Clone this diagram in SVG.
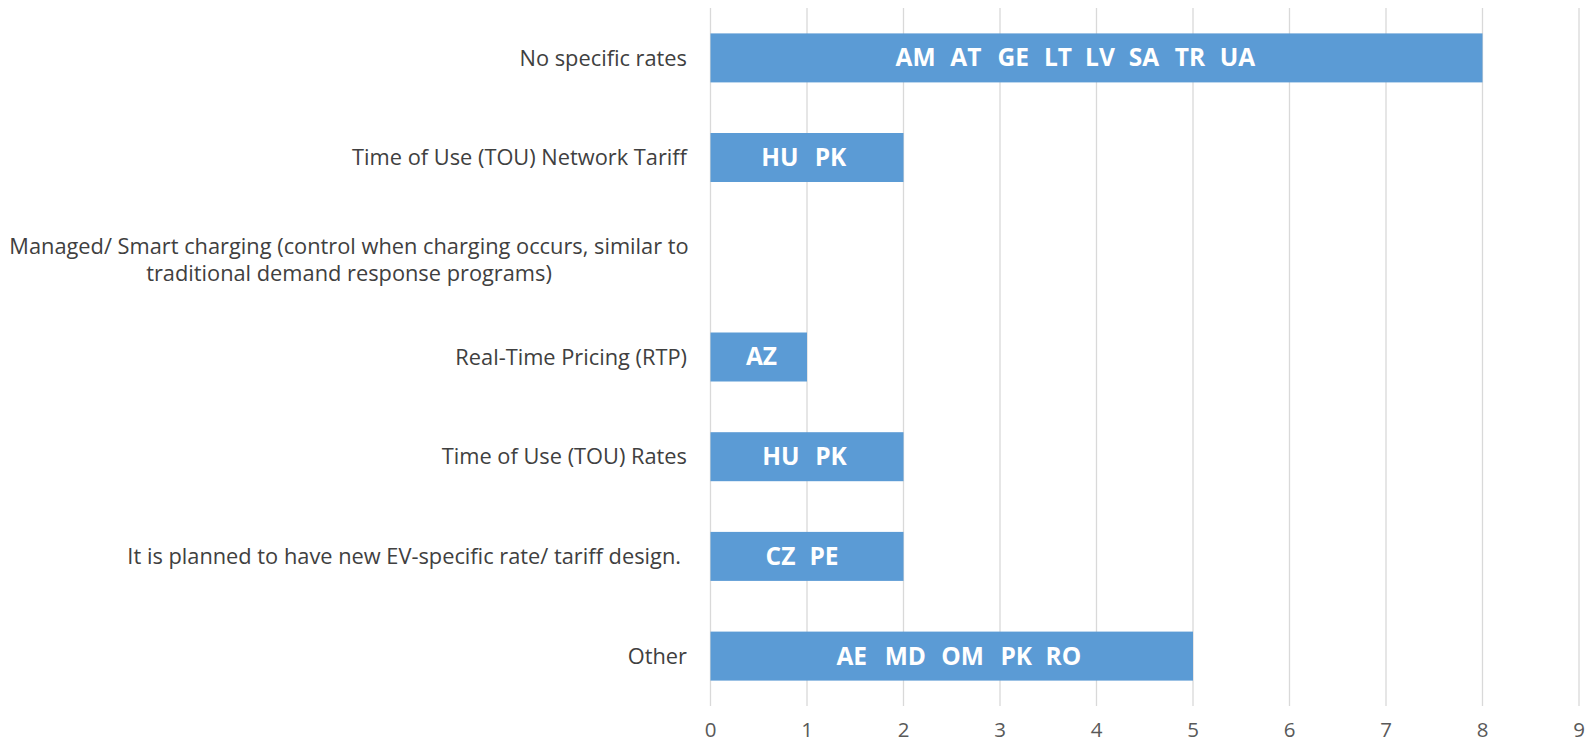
<svg xmlns="http://www.w3.org/2000/svg" width="1585" height="743" viewBox="0 0 1585 743">
<style>
.bg{fill:#ffffff}
.grid line{stroke:#d9d9d9;stroke-width:1.3}
.bar{fill:#5b9bd5}
.cat{font-family:"Open Sans","Liberation Sans",sans-serif;font-size:21.8px;fill:#404040;text-anchor:end}
.cat2{font-family:"Open Sans","Liberation Sans",sans-serif;font-size:21.8px;fill:#404040;text-anchor:middle}
.dl{font-family:"Open Sans","Liberation Sans",sans-serif;font-size:24.5px;font-weight:bold;fill:#ffffff;text-anchor:middle}
.ax{font-family:"Open Sans","Liberation Sans",sans-serif;font-size:20.5px;fill:#595959;text-anchor:middle}
</style>
<rect class="bg" x="0" y="0" width="1585" height="743"/>
<g id="gridlines" class="grid">
<line x1="710.5" y1="8" x2="710.5" y2="706"/>
<line x1="807" y1="8" x2="807" y2="706"/>
<line x1="903.5" y1="8" x2="903.5" y2="706"/>
<line x1="1000" y1="8" x2="1000" y2="706"/>
<line x1="1096.5" y1="8" x2="1096.5" y2="706"/>
<line x1="1193" y1="8" x2="1193" y2="706"/>
<line x1="1289.5" y1="8" x2="1289.5" y2="706"/>
<line x1="1386" y1="8" x2="1386" y2="706"/>
<line x1="1482.5" y1="8" x2="1482.5" y2="706"/>
<line x1="1579" y1="8" x2="1579" y2="706"/>
</g>
<g id="axis-labels">
<text class="ax" x="710.5" y="737">0</text>
<text class="ax" x="807" y="737">1</text>
<text class="ax" x="903.5" y="737">2</text>
<text class="ax" x="1000" y="737">3</text>
<text class="ax" x="1096.5" y="737">4</text>
<text class="ax" x="1193" y="737">5</text>
<text class="ax" x="1289.5" y="737">6</text>
<text class="ax" x="1386" y="737">7</text>
<text class="ax" x="1482.5" y="737">8</text>
<text class="ax" x="1579" y="737">9</text>
</g>
<g id="row-no-specific-rates">
<text class="cat" x="687" y="65.5">No specific rates</text>
<rect class="bar" x="710.5" y="33.4" width="772" height="49"/>
<text class="dl" y="66.3"><tspan x="915.5">AM</tspan><tspan x="965.8">AT</tspan><tspan x="1013.3">GE</tspan><tspan x="1058">LT</tspan><tspan x="1100">LV</tspan><tspan x="1144">SA</tspan><tspan x="1190">TR</tspan><tspan x="1237.5">UA</tspan></text>
</g>
<g id="row-tou-network-tariff">
<text class="cat" x="687" y="165.2">Time of Use (TOU) Network Tariff</text>
<rect class="bar" x="710.5" y="133" width="193" height="49"/>
<text class="dl" y="166"><tspan x="780">HU</tspan><tspan x="830.5">PK</tspan></text>
</g>
<g id="row-managed-smart-charging">
<text class="cat2" x="349" y="254">Managed/ Smart charging (control when charging occurs, similar to</text>
<text class="cat2" x="349" y="280.5">traditional demand response programs)</text>
</g>
<g id="row-rtp">
<text class="cat" x="687" y="364.6">Real-Time Pricing (RTP)</text>
<rect class="bar" x="710.5" y="332.5" width="96.5" height="49"/>
<text class="dl" y="365.4"><tspan x="761.5">AZ</tspan></text>
</g>
<g id="row-tou-rates">
<text class="cat" x="687" y="464.3">Time of Use (TOU) Rates</text>
<rect class="bar" x="710.5" y="432.2" width="193" height="49"/>
<text class="dl" y="465.1"><tspan x="781">HU</tspan><tspan x="831">PK</tspan></text>
</g>
<g id="row-planned">
<text class="cat" x="681" y="564">It is planned to have new EV-specific rate/ tariff design.</text>
<rect class="bar" x="710.5" y="531.9" width="193" height="49"/>
<text class="dl" y="564.8"><tspan x="780.5">CZ</tspan><tspan x="824">PE</tspan></text>
</g>
<g id="row-other">
<text class="cat" x="687" y="663.7">Other</text>
<rect class="bar" x="710.5" y="631.6" width="482.5" height="49"/>
<text class="dl" y="664.5"><tspan x="851.7">AE</tspan><tspan x="905.3">MD</tspan><tspan x="962.5">OM</tspan><tspan x="1016.3">PK</tspan><tspan x="1063.3">RO</tspan></text>
</g>
</svg>
